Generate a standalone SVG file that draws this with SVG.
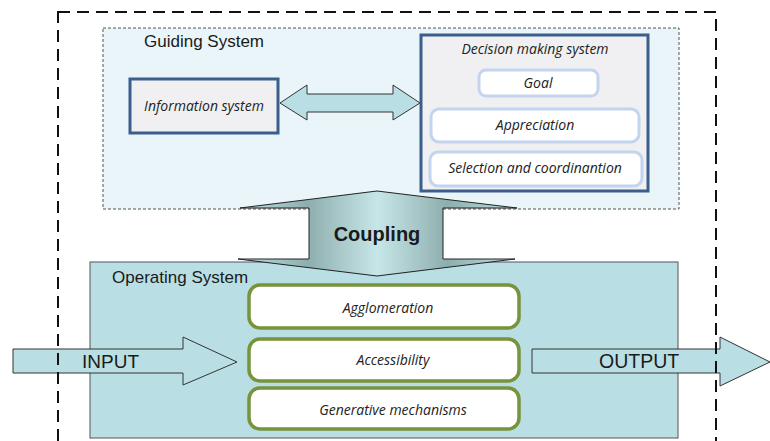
<svg xmlns="http://www.w3.org/2000/svg" width="770" height="441" viewBox="0 0 770 441">
<defs>
<style>
.lbl{font-family:"Liberation Sans",Arial,sans-serif;fill:#1a1a1a}
.it{font-family:"Open Sans","Liberation Sans",sans-serif;font-style:italic;font-size:14px;fill:#222;text-anchor:middle}
.blue{fill:#f0f0f2;stroke:#3b5e8c;stroke-width:3}
.sub{fill:#ffffff;stroke:#c3d4ee;stroke-width:3}
.green{fill:#ffffff;stroke:#77933c;stroke-width:3.5}
.arr{fill:#b9dfe4;stroke:#333;stroke-width:1}
</style>
<linearGradient id="cg" x1="238" y1="0" x2="517" y2="0" gradientUnits="userSpaceOnUse">
<stop offset="0" stop-color="#bfe1e4"/>
<stop offset="0.25" stop-color="#8eaeae"/>
<stop offset="0.5" stop-color="#c6e6e8"/>
<stop offset="0.75" stop-color="#8eaeae"/>
<stop offset="1" stop-color="#bfe1e4"/>
</linearGradient>
</defs>
<rect width="770" height="441" fill="#ffffff"/>

<g id="guiding-system">
<rect x="103" y="28" width="576" height="181" fill="#e9f5f9" stroke="#555" stroke-width="1" stroke-dasharray="3,2"/>
<text class="lbl" x="144" y="47" font-size="17">Guiding System</text>
</g>

<g id="information-system">
<rect class="blue" x="130" y="79" width="148" height="54"/>
<text class="it" x="204" y="111">Information system</text>
</g>

<g id="decision-making-system">
<rect class="blue" x="421" y="35" width="227" height="156"/>
<text class="it" x="535" y="54">Decision making system</text>
</g>
<g id="goal">
<rect class="sub" x="479" y="70" width="119" height="26" rx="7"/>
<text class="it" x="538" y="88">Goal</text>
</g>
<g id="appreciation">
<rect class="sub" x="431" y="109" width="208" height="33" rx="8"/>
<text class="it" x="535" y="130">Appreciation</text>
</g>
<g id="selection">
<rect class="sub" x="430" y="152" width="212" height="34" rx="8"/>
<text class="it" x="535" y="173">Selection and coordinantion</text>
</g>

<g id="operating-system">
<rect x="90" y="262" width="588" height="176" fill="#b9dfe4" stroke="#555" stroke-width="1"/>
<text class="lbl" x="112" y="283" font-size="17">Operating System</text>
</g>

<g id="agglomeration">
<rect class="green" x="249" y="285" width="270" height="43" rx="11"/>
<text class="it" x="388" y="313">Agglomeration</text>
</g>
<g id="accessibility">
<rect class="green" x="249" y="339" width="270" height="42" rx="11"/>
<text class="it" x="393" y="365">Accessibility</text>
</g>
<g id="generative-mechanisms">
<rect class="green" x="249" y="388" width="270" height="41" rx="11"/>
<text class="it" x="393" y="415">Generative mechanisms</text>
</g>

<g id="connectors">
<path class="arr" d="M280,103 L307,85 L307,94 L393,94 L393,85 L420,103 L393,120 L393,112 L307,112 L307,120 Z"/>
<path d="M377,191 L517,208 L443,208 L443,259 L515,259 L377,276 L238,259 L309,259 L309,208 L240,208 Z" fill="url(#cg)" stroke="#222" stroke-width="1"/>
<path class="arr" d="M13,349 L183,349 L183,337 L237,362 L183,385 L183,373 L13,373 Z"/>
<path class="arr" d="M532,349 L720,349 L720,337 L770,362 L720,386 L720,373 L532,373 Z"/>
</g>
<text class="lbl" x="377" y="241" font-size="20" font-weight="bold" text-anchor="middle">Coupling</text>
<text class="lbl" x="82" y="368" font-size="19">INPUT</text>
<text class="lbl" x="599" y="368" font-size="19.5">OUTPUT</text>

<g id="boundary">
<rect x="58" y="12" width="658" height="440" fill="none" stroke="#111" stroke-width="2" stroke-dasharray="12,7"/>
</g>
</svg>
